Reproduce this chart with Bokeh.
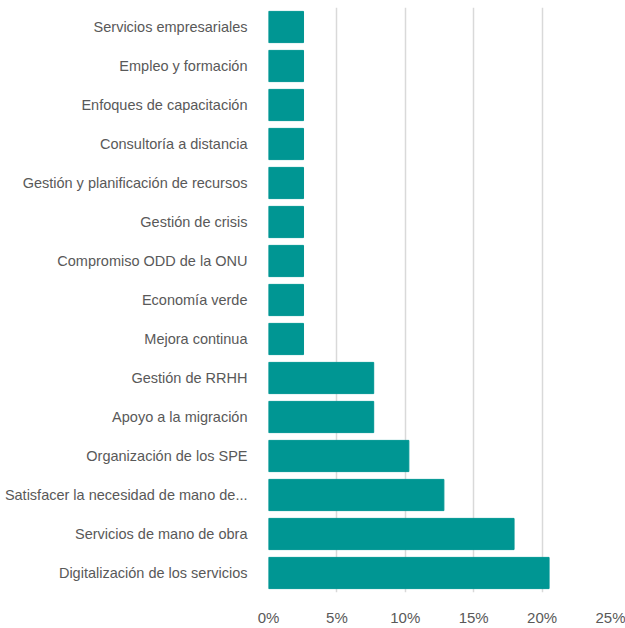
from bokeh.plotting import figure
from bokeh.models import FixedTicker, NumeralTickFormatter, Range1d
from bokeh.embed import file_html
from bokeh.resources import INLINE

categories = [
    "Digitalización de los servicios",
    "Servicios de mano de obra",
    "Satisfacer la necesidad de mano de...",
    "Organización de los SPE",
    "Apoyo a la migración",
    "Gestión de RRHH",
    "Mejora continua",
    "Economía verde",
    "Compromiso ODD de la ONU",
    "Gestión de crisis",
    "Gestión y planificación de recursos",
    "Consultoría a distancia",
    "Enfoques de capacitación",
    "Empleo y formación",
    "Servicios empresariales",
]
values = [0.2051, 0.1795, 0.1282, 0.1026, 0.0769, 0.0769,
          0.0256, 0.0256, 0.0256, 0.0256, 0.0256, 0.0256, 0.0256, 0.0256, 0.0256]
x_ticks = [0, 0.05, 0.10, 0.15, 0.20, 0.25]

p = figure(width=625, height=628, y_range=categories, x_range=Range1d(0, 0.25),
           output_backend="svg", toolbar_location=None,
           min_border_left=268, min_border_right=15, min_border_top=7, min_border_bottom=35)
p.hbar(y=categories, right=values, left=0, height=0.8, color="#009693")

p.outline_line_color = None
p.background_fill_color = "white"
p.border_fill_color = "white"

p.xaxis.ticker = FixedTicker(ticks=x_ticks)
p.xaxis.formatter = NumeralTickFormatter(format="0%")
p.xgrid.ticker = FixedTicker(ticks=x_ticks)
p.xgrid.grid_line_color = "#d9d9d9"
p.xgrid.grid_line_width = 1.5
p.ygrid.grid_line_color = None

for ax in (p.xaxis, p.yaxis):
    ax.axis_line_color = None
    ax.major_tick_line_color = None
    ax.minor_tick_line_color = None
    ax.major_label_text_color = "#595959"
    ax.major_label_text_font = "Liberation Sans"
    ax.major_label_text_font_size = "14.5px"

p.xaxis.major_label_text_font_size = "15px"
p.yaxis.major_label_standoff = 15
p.xaxis.major_label_standoff = 10

open("out.html", "w").write(file_html(p, INLINE))
